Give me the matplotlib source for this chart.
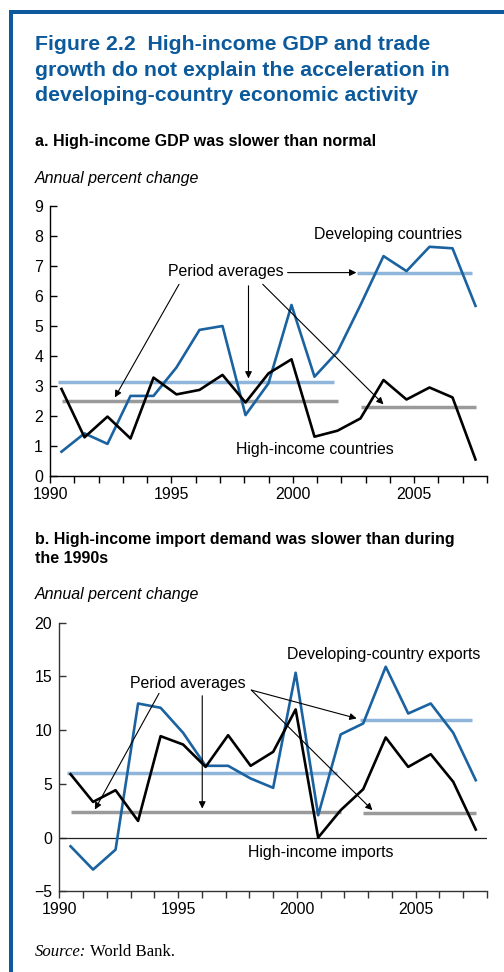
import numpy as np
import matplotlib
matplotlib.use('Agg')
import matplotlib.pyplot as plt
from matplotlib.patches import Rectangle

plt.rcParams['font.family'] = ['Liberation Sans', 'DejaVu Sans']

BLUE = '#1a62a0'
FRAME = '#0c5a9b'
LIGHT_BLUE = '#8fb5da'
GREY = '#9a9a9a'
FS = 11.4

years = list(range(1990, 2009))

# panel a: real GDP growth, annual percent change
gdp_developing = [0.80, 1.41, 1.06, 2.66, 2.66, 3.61, 4.86, 4.99, 2.02, 3.08,
                  5.69, 3.30, 4.13, 5.69, 7.32, 6.82, 7.63, 7.58, 5.66]
gdp_high_income = [2.89, 1.28, 1.97, 1.24, 3.27, 2.71, 2.86, 3.36, 2.44, 3.41,
                   3.88, 1.30, 1.50, 1.91, 3.19, 2.54, 2.94, 2.61, 0.54]
gdp_avg_developing = [3.13, 6.77]
gdp_avg_high_income = [2.48, 2.28]

# panel b: trade growth, annual percent change
exports_developing = [-0.81, -2.98, -1.12, 12.48, 12.08, 9.75, 6.68, 6.68, 5.50, 4.63,
                      15.34, 2.08, 9.60, 10.62, 15.90, 11.55, 12.48, 9.75, 5.34]
imports_high_income = [5.90, 3.32, 4.41, 1.55, 9.44, 8.66, 6.58, 9.53, 6.68, 7.98,
                       11.93, 0.00, 2.55, 4.50, 9.32, 6.58, 7.76, 5.19, 0.75]
trade_avg_developing = [6.02, 10.93]
trade_avg_high_income = [2.42, 2.33]

# the two averaging periods
periods = [(1990, 2002), (2003, 2008)]

tick_labels = ['1990', '', '', '', '', '1995', '', '', '', '', '2000', '', '', '', '', '2005', '', '', '']

fig = plt.figure(figsize=(5.04, 9.72), dpi=100)
W, H = 504.0, 972.0


def fx(px):
    return px / W


def fy(py):
    return 1 - py / H


# blue frame on top and left
fig.add_artist(Rectangle((fx(9), fy(14)), 1 - fx(9), 4 / H, transform=fig.transFigure,
                         color=FRAME, lw=0))
fig.add_artist(Rectangle((fx(9), 0), 4 / W, fy(10), transform=fig.transFigure,
                         color=FRAME, lw=0))

title_lines = ['Figure 2.2  High-income GDP and trade',
               'growth do not explain the acceleration in',
               'developing-country economic activity']
for line, base in zip(title_lines, [50.5, 75.5, 101]):
    fig.text(fx(35), fy(base), line, color=FRAME, fontsize=15.3, fontweight='bold', va='baseline')

fig.text(fx(35), fy(145.7), 'a. High-income GDP was slower than normal',
         fontsize=11.5, fontweight='bold', va='baseline')
fig.text(fx(35), fy(182.7), 'Annual percent change', fontsize=11.5, style='italic', va='baseline')

fig.text(fx(35), fy(544.3), 'b. High-income import demand was slower than during',
         fontsize=11.5, fontweight='bold', va='baseline')
fig.text(fx(35), fy(562.7), 'the 1990s', fontsize=11.5, fontweight='bold', va='baseline')
fig.text(fx(35), fy(599.3), 'Annual percent change', fontsize=11.5, style='italic', va='baseline')

src = fig.text(fx(35), fy(956), 'Source:', family='Liberation Serif', style='italic',
               fontsize=12.1, va='baseline')
renderer = fig.canvas.get_renderer()
bb = src.get_window_extent(renderer)
fig.text(bb.x1 / W + fx(4), fy(956), 'World Bank.', family='Liberation Serif',
         fontsize=12.1, va='baseline')


def setup_axes(ax, ylim, yticks, spine_color):
    xmin, xmax = 1989.5, 2008.5
    ax.set_xlim(xmin, xmax)
    ax.set_ylim(*ylim)
    ax.set_xticks(np.linspace(xmin, xmax, 19))
    ax.set_xticklabels(tick_labels)
    ax.set_yticks(yticks)
    ax.set_yticklabels([str(t).replace('-', '\u2212') for t in yticks])
    for s in ['top', 'right']:
        ax.spines[s].set_visible(False)
    for s in ['left', 'bottom']:
        ax.spines[s].set_color(spine_color)
        ax.spines[s].set_linewidth(1.0)
    ax.tick_params(axis='x', direction='out', length=5, width=1.0, pad=3,
                   labelsize=FS, color=spine_color)
    ax.tick_params(axis='y', direction='in', length=5, width=1.0, pad=5,
                   labelsize=FS, color=spine_color)
    ax.patch.set_alpha(0)


def draw_averages(ax, avg_blue, avg_grey):
    for (start, end), v in zip(periods, avg_blue):
        ax.plot([start - 0.15, end - 0.15], [v, v], color=LIGHT_BLUE, lw=2.5,
                solid_capstyle='butt', zorder=1)
    for (start, end), v in zip(periods, avg_grey):
        ax.plot([start, end], [v, v], color=GREY, lw=2.5, solid_capstyle='butt', zorder=1)


arrow = dict(arrowstyle='-|>', color='black', lw=0.8, mutation_scale=10, shrinkA=0, shrinkB=0)

# panel a
ax1 = fig.add_axes([fx(50), fy(475.7), fx(487) - fx(50), fy(205.7) - fy(475.7)])
setup_axes(ax1, (0, 9), list(range(0, 10)), 'black')
draw_averages(ax1, gdp_avg_developing, gdp_avg_high_income)
ax1.plot(years, gdp_developing, color=BLUE, lw=1.9, zorder=3)
ax1.plot(years, gdp_high_income, color='black', lw=1.9, zorder=3)

ax1.text(1997.13, 6.8, 'Period averages', ha='center', va='center', fontsize=FS)
ax1.annotate('', xy=(2002.82, 6.77), xytext=(1999.83, 6.77), arrowprops=arrow)
ax1.annotate('', xy=(1992.32, 2.61), xytext=(1995.11, 6.38), arrowprops=arrow)
ax1.annotate('', xy=(1998.13, 3.24), xytext=(1998.13, 6.33), arrowprops=arrow)
ax1.annotate('', xy=(2004.0, 2.38), xytext=(1998.75, 6.38), arrowprops=arrow)
ax1.text(2004.18, 8.04, 'Developing countries', ha='center', va='center', fontsize=FS)
ax1.text(2001.03, 0.86, 'High-income countries', ha='center', va='center', fontsize=FS)

# panel b
ax2 = fig.add_axes([fx(59.3), fy(891.3), fx(487) - fx(59.3), fy(622.7) - fy(891.3)])
setup_axes(ax2, (-5, 20), [-5, 0, 5, 10, 15, 20], '#333333')
ax2.axhline(0, color='#222222', lw=0.9, zorder=2)
draw_averages(ax2, trade_avg_developing, trade_avg_high_income)
ax2.plot(years, exports_developing, color=BLUE, lw=1.9, zorder=3)
ax2.plot(years, imports_high_income, color='black', lw=1.9, zorder=3)

ax2.text(1995.2, 14.35, 'Period averages', ha='center', va='center', fontsize=FS)
ax2.annotate('', xy=(2002.71, 11.09), xytext=(1998.03, 13.73), arrowprops=arrow)
ax2.annotate('', xy=(2003.41, 2.55), xytext=(1998.03, 13.73), arrowprops=arrow)
ax2.annotate('', xy=(1991.08, 2.61), xytext=(1993.93, 13.42), arrowprops=arrow)
ax2.annotate('', xy=(1995.85, 2.7), xytext=(1995.85, 13.2), arrowprops=arrow)
ax2.text(2003.9, 17.05, 'Developing-country exports', ha='center', va='center', fontsize=FS)
ax2.text(2001.11, -1.40, 'High-income imports', ha='center', va='center', fontsize=FS)

fig.savefig('out.png', dpi=100)
